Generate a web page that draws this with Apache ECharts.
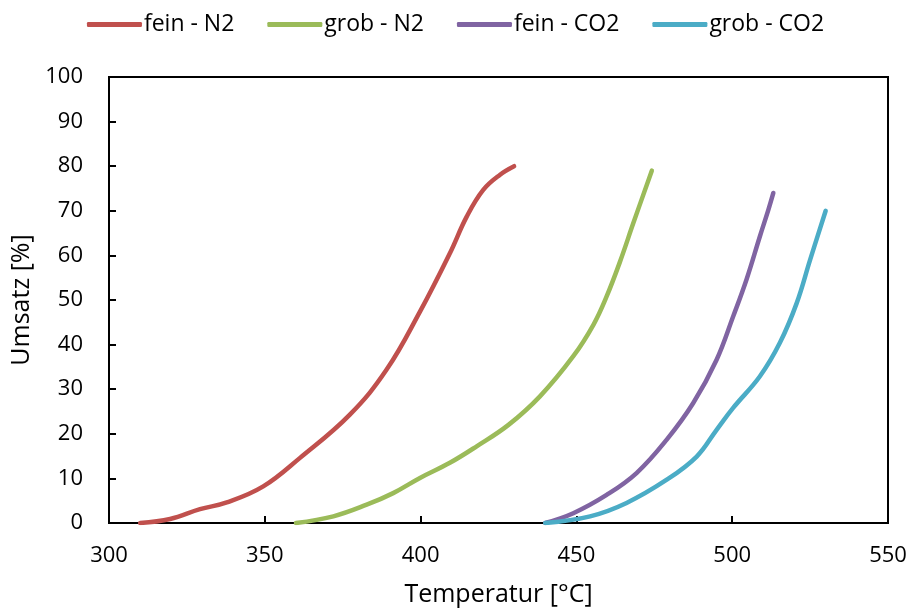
<!DOCTYPE html>
<html>
<head>
<meta charset="utf-8">
<script src="https://cdn.jsdelivr.net/npm/echarts@6/dist/echarts.min.js"></script>
<style>
  html, body { margin: 0; padding: 0; background: #fff; }
  #chart { width: 911px; height: 610px; }
</style>
</head>
<body>
<div id="chart"></div>
<script>
// Umsatz [%] over Temperatur [°C], sampled along each curve
const seriesNames = ['fein - N2', 'grob - N2', 'fein - CO2', 'grob - CO2'];
const seriesColors = ['#C0504D', '#9BBB59', '#8064A2', '#4BACC6'];

const feinN2 = [
  [310, 0], [319.6, 0.9], [329.2, 3.1], [337.8, 4.6], [349.5, 8.2],
  [361.3, 14.6], [377.3, 24.3], [389.1, 34.4], [399.8, 47.4], [409.4, 60.5],
  [414.8, 68.7], [420.1, 74.7], [425.5, 78.1], [430, 80]
];
const grobN2 = [
  [360, 0], [372, 1.5], [382.7, 4.1], [391.2, 6.7], [399.8, 10.1],
  [409.4, 13.5], [418, 17.2], [428.2, 22], [438.3, 28.4], [449, 37.4],
  [455.5, 44.5], [459.7, 50.8], [464, 58.6], [468.3, 67.3], [474.2, 79]
];
const feinCO2 = [
  [440, 0], [449, 2.2], [459.7, 6.3], [469.3, 11.2], [479, 18.7],
  [487.5, 26.9], [495, 36.6], [500.3, 46.3], [504.6, 54.6], [508.9, 64.3],
  [511.6, 70.2], [513.2, 74]
];
const grobCO2 = [
  [440, 0], [454.4, 1.5], [466.1, 4.5], [479, 9.7], [488.6, 14.9],
  [495, 20.9], [500.3, 25.8], [508.9, 32.9], [515.3, 40.4], [520.7, 49.3],
  [525, 59], [530, 70]
];
const seriesData = [feinN2, grobN2, feinCO2, grobCO2];

const xTicks = { min: 300, max: 550, interval: 50 };
const yTicks = { min: 0, max: 100, interval: 10 };

const FONT = 'Open Sans';
const chart = echarts.init(document.getElementById('chart'), null, { renderer: 'canvas' });

chart.setOption({
  animation: false,
  backgroundColor: '#fff',
  legend: {
    top: 8,
    left: 'center',
    icon: 'roundRect',
    itemWidth: 55,
    itemHeight: 5,
    itemGap: 33,
    textStyle: { fontFamily: FONT, fontSize: 23, color: '#000', padding: [0, 0, 0, -3] },
    data: seriesNames
  },
  grid: {
    left: 109, right: 23, top: 77, bottom: 87,
    outerBoundsMode: 'none',
    containLabel: false,
    show: true, borderColor: '#000', borderWidth: 2, backgroundColor: 'transparent'
  },
  xAxis: {
    type: 'value',
    min: xTicks.min, max: xTicks.max, interval: xTicks.interval,
    name: 'Temperatur [°C]',
    nameLocation: 'middle',
    nameGap: 59,
    nameTextStyle: { fontFamily: FONT, fontSize: 25, color: '#000' },
    axisLine: { lineStyle: { color: '#000', width: 2 } },
    axisTick: { inside: true, length: 7, lineStyle: { color: '#000', width: 2 } },
    axisLabel: { fontFamily: FONT, fontSize: 22, color: '#000', margin: 22 },
    splitLine: { show: false }
  },
  yAxis: {
    type: 'value',
    min: yTicks.min, max: yTicks.max, interval: yTicks.interval,
    name: 'Umsatz [%]',
    nameLocation: 'middle',
    nameGap: 75,
    nameTextStyle: { fontFamily: FONT, fontSize: 25, color: '#000' },
    axisLine: { lineStyle: { color: '#000', width: 2 } },
    axisTick: { inside: true, length: 7, lineStyle: { color: '#000', width: 2 } },
    axisLabel: { fontFamily: FONT, fontSize: 22, color: '#000', margin: 26 },
    splitLine: { show: false }
  },
  series: seriesNames.map((name, i) => ({
    name,
    type: 'line',
    data: seriesData[i],
    smooth: 0.4,
    symbol: 'none',
    color: seriesColors[i],
    lineStyle: { width: 4.5, color: seriesColors[i], cap: 'round', join: 'round' }
  }))
});
</script>
</body>
</html>
